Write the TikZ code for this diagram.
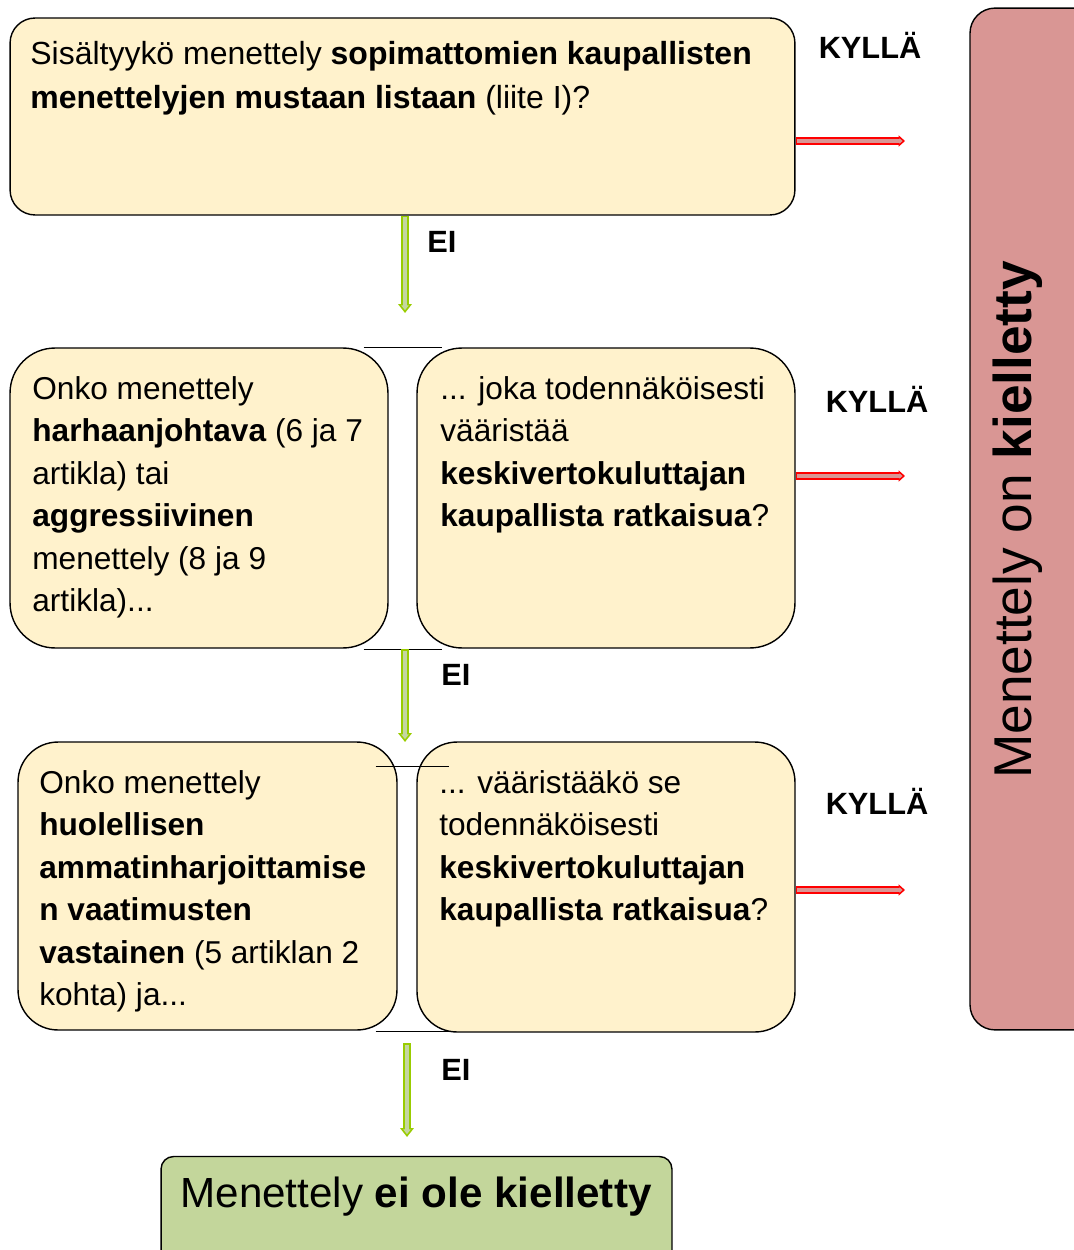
\documentclass[tikz,border=0pt]{standalone}
\usepackage{fontspec}
\setmainfont{Liberation Sans}
\usepackage{tikz}
\usetikzlibrary{arrows.meta}
\usepackage{xcolor}

\definecolor{boxfill}{HTML}{FFF2CC}
\definecolor{killfill}{HTML}{D99694}
\definecolor{okfill}{HTML}{C3D69B}
\definecolor{grnline}{HTML}{99CC00}
\definecolor{grnfill}{HTML}{C4D6A0}
\definecolor{redline}{HTML}{FF0000}

\begin{document}
\begin{tikzpicture}[
      x=0.02cm, y=-0.02cm,
      qbox/.style={
        rectangle, draw, fill=boxfill, line width=0.8pt, inner sep=0pt
      },
      gap/.style={rectangle, draw=none, inner sep=0pt},
      txt/.style={
        anchor=north west, inner sep=0pt, align=left,
        font=\fontsize{18}{24.2}\selectfont
      },
      lbl/.style={font=\bfseries\fontsize{17.5}{20}\selectfont, inner sep=0pt},
      garrow/.style={
        line width=4.4pt, draw=grnline, -{Triangle[length=5pt,width=7.5pt]},
        postaction={draw=grnfill, line width=2.2pt, shorten <=1pt, shorten >=1.6pt,
          -{Triangle[length=2.8pt,width=4.2pt]}}
      },
      rarrow/.style={
        line width=4.2pt, draw=redline, -{Triangle[length=3.6pt,width=6.2pt]},
        postaction={draw=killfill, line width=2.4pt, shorten <=0.8pt, shorten >=1.4pt,
          -{Triangle[length=1.8pt,width=3pt]}}
      }
    ]
    \useasboundingbox (0,0) rectangle (1074,1250);

    % right column: prohibited
    \node[qbox, fill=killfill, rounded corners=0.5cm, minimum width=2.6cm, minimum height=20.44cm] (kb) at (1035,519) {};
    \node[rotate=90, inner sep=0pt, font=\fontsize{30.3}{34}\selectfont] (kt) at (1018,520) {Menettely on \textbf{kielletty}};

    % first question
    \node[qbox, rounded corners=0.5cm, minimum width=15.7cm, minimum height=3.94cm] (b1) at (402.5,116.5) {};
    \node[txt, font=\fontsize{18.2}{25}\selectfont] (t1) at (30,41)
      {Sisältyykö menettely \textbf{sopimattomien kaupallisten}\\
       \textbf{menettelyjen mustaan listaan} (liite I)?};

    % second row
    \node[gap, minimum width=1.56cm, minimum height=6.02cm] (m2) at (403,498.5) {};
    \node[qbox, rounded corners=0.9cm, minimum width=7.56cm, minimum height=6cm] (b2l) at (199,498) {};
    \node[qbox, rounded corners=0.9cm, minimum width=7.56cm, minimum height=6cm] (b2r) at (606,498) {};
    \draw[line width=0.8pt] (m2.north west) -- (m2.north east)
                            (m2.south west) -- (m2.south east);
    \node[txt] (t2l) at (32,376)
      {Onko menettely\\
       \textbf{harhaanjohtava} (6 ja 7\\
       artikla) tai\\
       \textbf{aggressiivinen}\\
       menettely (8 ja 9\\
       artikla)...};
    \node[txt] (t2r) at (440,376)
      {... joka todennäköisesti\\
       vääristää\\
       \textbf{keskivertokuluttajan}\\
       \textbf{kaupallista ratkaisua}?};

    % third row
    \node[gap, minimum width=1.46cm, minimum height=5.28cm] (m3) at (412.5,899) {};
    \node[qbox, rounded corners=0.8cm, minimum width=7.58cm, minimum height=5.76cm] (b3l) at (207.5,886) {};
    \node[qbox, rounded corners=0.8cm, minimum width=7.56cm, minimum height=5.8cm] (b3r) at (606,887) {};
    \draw[line width=0.8pt] (m3.north west) -- (m3.north east)
                            (m3.south west) -- (m3.south east);
    \node[txt] (t3l) at (39,770)
      {Onko menettely\\
       \textbf{huolellisen}\\
       \textbf{ammatinharjoittamise}\\
       \textbf{n vaatimusten}\\
       \textbf{vastainen} (5 artiklan 2\\
       kohta) ja...};
    \node[txt] (t3r) at (439,770)
      {... vääristääkö se\\
       todennäköisesti\\
       \textbf{keskivertokuluttajan}\\
       \textbf{kaupallista ratkaisua}?};

    % result
    \node[qbox, fill=okfill, rounded corners=0.25cm, minimum width=10.22cm, minimum height=2.3cm] (ok) at (416.5,1214) {};
    \node[inner sep=0pt, font=\fontsize{24}{28}\selectfont] (okt) at (416,1197) {Menettely \textbf{ei ole kielletty}};

    % labels
    \node[lbl] (y1) at (870,45) {KYLLÄ};
    \node[lbl] (y2) at (877,399) {KYLLÄ};
    \node[lbl] (y3) at (877,801) {KYLLÄ};
    \node[lbl] (n1) at (442,242) {EI};
    \node[lbl] (n2) at (456,675) {EI};
    \node[lbl] (n3) at (456,1070) {EI};

    % arrow ends
    \coordinate (e1) at (405,313);
    \coordinate (e2) at (405,742);
    \coordinate (s3) at (407,1043);
    \coordinate (e3) at (407,1137);
    \coordinate (r1) at (905,141);
    \coordinate (r2) at (905,476);
    \coordinate (r3) at (905,890);

    \draw[garrow] (b1.south -| e1) -- (e1);
    \draw[garrow] (m2.south -| e2) -- (e2);
    \draw[garrow] (s3) -- (e3);

    \foreach \a/\b in {b1/r1, b2r/r2, b3r/r3}
      \draw[rarrow] (\a.east |- \b) -- (\b);
  \end{tikzpicture}
\end{document}
